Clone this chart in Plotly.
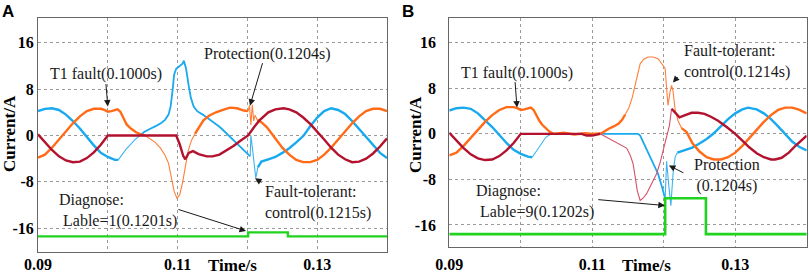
import plotly.graph_objects as go

# ---------------- Panel A data (time in s, current in A) ----------------
t_a_blue_1 = [0.090, 0.091, 0.092, 0.093, 0.094, 0.095, 0.096, 0.097, 0.098, 0.099, 0.100, 0.101, 0.1015]
v_a_blue_1 = [4.2, 4.6, 4.7, 4.4, 3.6, 2.5, 1.2, -0.3, -1.7, -3.0, -3.7, -4.2, -4.2]
t_a_blue_2 = [0.1015, 0.1020, 0.1026, 0.1033, 0.1039, 0.1046]
v_a_blue_2 = [-4.2, -3.3, -2.4, -1.5, -0.7, 0.0]
t_a_blue_3 = [0.1046, 0.1052, 0.1058, 0.1064, 0.1070, 0.1076, 0.1082, 0.1087, 0.1090, 0.1093, 0.1095,
              0.1098, 0.1103, 0.1107, 0.1109, 0.1112, 0.1116, 0.1119, 0.1123, 0.1128, 0.1136, 0.1143,
              0.1150, 0.1160, 0.1168, 0.1175, 0.1183, 0.1190, 0.1196, 0.1200, 0.1204]
v_a_blue_3 = [0.0, 0.6, 1.0, 1.3, 1.7, 2.1, 2.7, 3.6, 5.0, 8.0, 10.5,
              11.5, 12.0, 12.4, 12.9, 11.6, 8.5, 6.5, 5.0, 4.2, 3.6, 3.0,
              2.5, 1.5, 0.6, -0.2, -1.1, -1.9, -2.6, -3.1, -3.6]
t_a_blue_4 = [0.1204, 0.1205, 0.1207, 0.1210, 0.1212, 0.1215]
v_a_blue_4 = [-3.6, 0.0, -2.0, -6.0, -7.3, -5.5]
t_a_blue_5 = [0.1215, 0.1220, 0.1230, 0.1240, 0.1250, 0.1260, 0.1270, 0.1280, 0.1290, 0.1300,
              0.1310, 0.1320, 0.1330, 0.1340, 0.1350, 0.1360, 0.1370, 0.1380, 0.1390, 0.1400]
v_a_blue_5 = [-5.5, -4.5, -4.1, -3.7, -3.0, -2.2, -1.2, -0.1, 1.6, 3.1,
              4.2, 4.7, 4.4, 3.7, 2.5, 1.1, -0.3, -1.7, -3.0, -3.9]

t_a_or_1 = [0.090, 0.091, 0.092, 0.093, 0.094, 0.095, 0.096, 0.097, 0.098, 0.099, 0.0995, 0.1000,
            0.1005, 0.1010, 0.1014, 0.1018, 0.1022, 0.1027, 0.1033, 0.1040, 0.1047, 0.1053]
v_a_or_1 = [-3.8, -3.3, -2.1, -0.7, 0.7, 2.1, 3.3, 4.2, 4.6, 4.6, 4.4, 4.1,
            4.2, 4.4, 4.5, 4.1, 3.0, 1.9, 1.2, 0.6, 0.2, 0.0]
t_a_or_2 = [0.1053, 0.1060, 0.1067, 0.1075, 0.1082, 0.1087, 0.1091, 0.1095, 0.1099, 0.1103,
            0.1107, 0.1111, 0.1115, 0.1120, 0.1125]
v_a_or_2 = [0.0, -0.5, -1.1, -2.1, -3.4, -4.8, -7.0, -9.6, -10.8, -10.2,
            -8.2, -5.4, -2.7, -0.8, 0.3]
t_a_or_3 = [0.1125, 0.1130, 0.1137, 0.1145, 0.1155, 0.1165, 0.1175, 0.1185, 0.1195, 0.1201]
v_a_or_3 = [0.3, 1.2, 2.6, 3.4, 4.0, 4.4, 4.8, 4.7, 4.3, 4.2]
t_a_or_4 = [0.1201, 0.1203, 0.1205, 0.1207, 0.1209, 0.1211, 0.1214]
v_a_or_4 = [4.2, 5.2, 1.8, 5.3, 2.5, 3.5, 2.7]
t_a_or_5 = [0.1214, 0.1220, 0.1228, 0.1237, 0.1245, 0.1250, 0.1260, 0.1270, 0.1280, 0.1290, 0.1300,
            0.1310, 0.1320, 0.1330, 0.1340, 0.1350, 0.1360, 0.1370, 0.1380, 0.1390, 0.1400]
v_a_or_5 = [2.7, 2.3, 1.4, 0.0, -1.4, -2.1, -3.3, -4.2, -4.6, -4.6, -4.2,
            -3.3, -2.1, -0.7, 0.7, 2.1, 3.3, 4.2, 4.6, 4.6, 4.2]

t_a_red = [0.090, 0.091, 0.092, 0.093, 0.094, 0.095, 0.096, 0.097, 0.098, 0.099, 0.0997, 0.1000,
           0.1050, 0.1098, 0.1103, 0.1108, 0.1111, 0.1116, 0.1122, 0.1130, 0.1142, 0.1150, 0.1160,
           0.1170, 0.1180, 0.1190, 0.1201, 0.1210, 0.1218, 0.1230, 0.1240, 0.1252, 0.1260, 0.1270,
           0.1280, 0.1290, 0.1300, 0.1310, 0.1320, 0.1330, 0.1340, 0.1350, 0.1360, 0.1370, 0.1380,
           0.1390, 0.1400]
v_a_red = [0.2, -1.2, -2.5, -3.6, -4.3, -4.6, -4.5, -3.9, -2.9, -1.6, -0.6, 0.0,
           0.0, 0.0, -1.5, -3.5, -4.1, -3.0, -2.7, -3.2, -3.6, -3.6, -3.3,
           -2.6, -1.8, -0.9, 0.0, 1.5, 2.7, 4.0, 4.5, 4.7, 4.5, 4.0,
           3.1, 2.0, 0.7, -0.7, -2.1, -3.3, -4.1, -4.6, -4.5, -4.0, -3.1,
           -1.9, -0.5]

t_a_green = [0.090, 0.1201, 0.1258, 0.140]
v_a_green = [-17.4, -16.7, -17.4, -17.4]

# ---------------- Panel B data ----------------
t_b_blue_1 = [0.090, 0.091, 0.092, 0.093, 0.094, 0.095, 0.096, 0.097, 0.098, 0.099, 0.100, 0.101, 0.1016]
v_b_blue_1 = [4.1, 4.5, 4.6, 4.4, 3.6, 2.4, 1.2, -0.2, -1.6, -2.8, -3.5, -4.0, -4.1]
t_b_blue_2 = [0.1016, 0.1020, 0.1025, 0.1030, 0.1035, 0.1040, 0.1044]
v_b_blue_2 = [-4.1, -3.4, -2.4, -1.5, -0.6, -0.2, 0.0]
t_b_blue_3 = [0.1044, 0.1100, 0.1164, 0.1167, 0.1175, 0.1183, 0.1192, 0.1198, 0.1202]
v_b_blue_3 = [0.0, 0.0, 0.0, -0.3, -2.5, -4.7, -7.0, -9.5, -11.4]
t_b_blue_4 = [0.1202, 0.1204, 0.1207, 0.1210, 0.1213, 0.1216, 0.1219]
v_b_blue_4 = [-11.4, -4.8, -9.0, -12.6, -7.0, -4.0, -3.3]
t_b_blue_5 = [0.1219, 0.1228, 0.1240, 0.1250, 0.1260, 0.1270, 0.1280, 0.1290, 0.1300, 0.1310,
              0.1318, 0.1330, 0.1340, 0.1350, 0.1360, 0.1370, 0.1380, 0.1390, 0.1400]
v_b_blue_5 = [-3.3, -2.9, -2.4, -1.7, -0.9, 0.1, 1.3, 2.6, 3.6, 4.3,
              4.6, 4.3, 3.6, 2.6, 1.3, -0.1, -1.4, -2.3, -2.9]

t_b_or_1 = [0.090, 0.091, 0.092, 0.093, 0.094, 0.095, 0.096, 0.097, 0.098, 0.099, 0.0995, 0.1000,
            0.1005, 0.1010, 0.1014, 0.1018, 0.1022, 0.1026, 0.1030, 0.1035, 0.1040, 0.1046, 0.1060,
            0.1075, 0.1090, 0.1100, 0.1113, 0.1118, 0.1123, 0.1130, 0.1137, 0.1142, 0.1146]
v_b_or_1 = [-3.8, -3.3, -2.1, -0.7, 0.7, 2.1, 3.3, 4.2, 4.7, 4.7, 4.5, 4.2,
            4.3, 4.5, 4.6, 4.2, 3.2, 2.3, 1.6, 0.9, 0.4, 0.0, 0.2,
            -0.1, 0.1, 0.0, 0.1, 0.5, 0.9, 1.3, 1.8, 2.5, 3.4]
t_b_or_2 = [0.1146, 0.1151, 0.1156, 0.1160, 0.1163, 0.1167, 0.1172, 0.1178, 0.1185, 0.1192, 0.1199,
            0.1202, 0.1204, 0.1206, 0.1209, 0.1211, 0.1213, 0.1216, 0.1220, 0.1225]
v_b_or_2 = [3.4, 4.5, 6.4, 8.5, 10.6, 12.3, 13.1, 13.5, 13.5, 13.2, 12.0,
            11.5, 8.0, 5.0, 7.5, 8.5, 7.5, 4.2, 2.3, 1.0]
t_b_or_3 = [0.1225, 0.1232, 0.1240, 0.1250, 0.1260, 0.1270, 0.1280, 0.1290, 0.1300, 0.1310,
            0.1320, 0.1330, 0.1340, 0.1350, 0.1360, 0.1370, 0.1380, 0.1390, 0.1400]
v_b_or_3 = [1.0, 0.3, -1.6, -3.1, -4.1, -4.5, -4.5, -4.1, -3.3, -2.1,
            -0.7, 0.7, 2.1, 3.3, 4.2, 4.6, 4.6, 4.2, 3.6]

t_b_red_1 = [0.090, 0.091, 0.092, 0.093, 0.094, 0.095, 0.096, 0.097, 0.098, 0.099, 0.0997, 0.1000,
             0.1060, 0.1085, 0.1092, 0.1100, 0.1108, 0.1111]
v_b_red_1 = [0.2, -1.2, -2.5, -3.6, -4.3, -4.6, -4.5, -3.9, -2.9, -1.6, -0.6, 0.0,
             0.0, 0.0, -0.3, -0.3, -0.1, 0.0]
t_b_red_2 = [0.1111, 0.1120, 0.1129, 0.1140, 0.1148, 0.1153, 0.1157, 0.1160, 0.1163, 0.1167, 0.1171,
             0.1176, 0.1183, 0.1190, 0.1195, 0.1199, 0.1204, 0.1208, 0.1211]
v_b_red_2 = [0.0, -0.6, -1.2, -1.9, -2.5, -3.7, -5.2, -7.5, -10.0, -11.7, -11.3,
             -10.5, -8.8, -7.0, -5.0, -2.9, -0.6, 1.5, 4.4]
t_b_red_3 = [0.1211, 0.1216, 0.1222, 0.1230, 0.1239, 0.1248, 0.1257, 0.1266, 0.1276, 0.1288, 0.1300,
             0.1310, 0.1320, 0.1330, 0.1340, 0.1350, 0.1356, 0.1365, 0.1375, 0.1385, 0.1393, 0.1400]
v_b_red_3 = [4.4, 3.7, 2.9, 3.3, 3.7, 3.7, 3.5, 3.0, 2.3, 1.2, 0.0,
             -1.2, -2.4, -3.4, -4.1, -4.5, -4.5, -4.2, -3.3, -2.0, -1.1, -0.3]

t_b_green = [0.090, 0.1202, 0.1259, 0.140]
v_b_green = [-17.6, -11.3, -17.6, -17.6]

# tick settings
x_tickvals = [0.09, 0.10, 0.11, 0.12, 0.13]
x_ticktext = ["0.09", "", "0.11", "", "0.13"]
y_tickvals = [-16, -8, 0, 8, 16]
y_ticktext = ["-16", "-8", "0", "8", "16"]

BLUE = "#19A9EE"
BLUE_T = "#3DB4F0"
ORANGE = "#FF6B17"
ORANGE_T = "#FF7F3A"
RED = "#B3122E"
RED_T = "#D6506A"
GREEN = "#1FD31F"
THICK = 2.4
THIN = 1.1

fig = go.Figure()


def add(t, v, color, width, xa, ya, shape="linear"):
    fig.add_trace(go.Scatter(x=t, y=v, mode="lines", xaxis=xa, yaxis=ya,
                             line=dict(color=color, width=width, shape=shape),
                             showlegend=False, hoverinfo="skip"))


# Panel A
add(t_a_blue_1, v_a_blue_1, BLUE, THICK, "x", "y")
add(t_a_blue_2, v_a_blue_2, BLUE_T, THIN, "x", "y")
add(t_a_blue_3, v_a_blue_3, BLUE, 1.8, "x", "y")
add(t_a_blue_4, v_a_blue_4, BLUE_T, THIN, "x", "y")
add(t_a_blue_5, v_a_blue_5, BLUE, THICK, "x", "y")
add(t_a_or_1, v_a_or_1, ORANGE, THICK, "x", "y")
add(t_a_or_2, v_a_or_2, ORANGE_T, THIN, "x", "y")
add(t_a_or_3, v_a_or_3, ORANGE, THICK, "x", "y")
add(t_a_or_4, v_a_or_4, ORANGE_T, THIN, "x", "y")
add(t_a_or_5, v_a_or_5, ORANGE, THICK, "x", "y")
add(t_a_red, v_a_red, RED, THICK, "x", "y")
add(t_a_green, v_a_green, GREEN, THICK, "x", "y", "hv")

# Panel B
add(t_b_blue_1, v_b_blue_1, BLUE, THICK, "x2", "y2")
add(t_b_blue_2, v_b_blue_2, BLUE_T, THIN, "x2", "y2")
add(t_b_blue_3, v_b_blue_3, BLUE, 1.8, "x2", "y2")
add(t_b_blue_4, v_b_blue_4, BLUE_T, THIN, "x2", "y2")
add(t_b_blue_5, v_b_blue_5, BLUE, THICK, "x2", "y2")
add(t_b_or_1, v_b_or_1, ORANGE, THICK, "x2", "y2")
add(t_b_or_2, v_b_or_2, ORANGE_T, THIN, "x2", "y2")
add(t_b_or_3, v_b_or_3, ORANGE, THICK, "x2", "y2")
add(t_b_red_1, v_b_red_1, RED, THICK, "x2", "y2")
add(t_b_red_2, v_b_red_2, RED_T, THIN, "x2", "y2")
add(t_b_red_3, v_b_red_3, RED, THICK, "x2", "y2")
add(t_b_green, v_b_green, GREEN, 2.6, "x2", "y2", "hv")

SERIF = "Liberation Serif"
tickfont = dict(family=SERIF, size=16, color="black", weight="bold")

xcommon = dict(range=[0.09, 0.14], tickvals=x_tickvals, ticktext=x_ticktext,
               showgrid=True, gridcolor="#9a9a9a", griddash="dot", gridwidth=1,
               showline=True, mirror=True, linecolor="#666", linewidth=1,
               ticks="", zeroline=False, tickfont=tickfont, automargin=False)
ycommon = dict(tickvals=y_tickvals, ticktext=y_ticktext,
               showgrid=True, gridcolor="#9a9a9a", griddash="dot", gridwidth=1,
               showline=True, mirror=True, linecolor="#666", linewidth=1,
               ticks="", zeroline=False, tickfont=tickfont, automargin=False)

fig.update_layout(
    width=809, height=275,
    margin=dict(l=0, r=0, t=0, b=0, pad=0, autoexpand=False),
    paper_bgcolor="white", plot_bgcolor="white",
    xaxis=dict(domain=[0.04697, 0.47837], anchor="y", ticklabelstandoff=-2, **xcommon),
    yaxis=dict(domain=[0.08364, 0.93455], anchor="x", range=[-20.09, 20.26], **ycommon),
    xaxis2=dict(domain=[0.55538, 0.99716], anchor="y2", ticklabelstandoff=3, **xcommon),
    yaxis2=dict(domain=[0.10291, 0.93455], anchor="x2", range=[-19.81, 20.34],
                ticklabelstandoff=9, **ycommon),
)

ann_font = dict(family=SERIF, size=16, color="#1a1a1a")
ARC = "#1a1a1a"


def text(x, y, s, xref, yref, xanchor="center", align="center"):
    fig.add_annotation(x=x, y=y, xref=xref, yref=yref, text=s, showarrow=False,
                       font=ann_font, xanchor=xanchor, yanchor="middle", align=align)


def arrow(x, y, ax, ay, xref, yref):
    fig.add_annotation(x=x, y=y, xref=xref, yref=yref, text="", showarrow=True,
                       ax=ax, ay=ay, arrowhead=2, arrowsize=1.3, arrowwidth=1,
                       arrowcolor=ARC, standoff=0)


# Panel A annotations
text(0.09981, 10.63, "T1 fault(0.1000s)", "x", "y")
arrow(0.1000, 5.0, -2, -24, "x", "y")
text(0.12295, 14.07, "Protection(0.1204s)", "x", "y")
arrow(0.12037, 5.15, 13, -44, "x", "y")
text(0.12223, -11.49, "Fault-tolerant:<br>control(0.1215s)", "x", "y", "left", "left")
arrow(0.12109, -7.38, 8, 5, "x", "y")
text(0.09272, -12.98, "Diagnose:<br> Lable=1(0.1201s)", "x", "y", "left", "left")
arrow(0.1198, -16.47, -69, -22, "x", "y")

# Panel B annotations
text(0.09943, 10.75, "T1 fault(0.1000s)", "x2", "y2")
arrow(0.09947, 4.61, -2, -27, "x2", "y2")
text(0.12254, 12.68, "Fault-tolerant:<br>control(0.1214s)", "x2", "y2", "left", "left")
arrow(0.12129, 9.0, 6, -7, "x2", "y2")
text(0.12884, -7.32, "Protection<br>(0.1204s)", "x2", "y2")
arrow(0.12072, -5.56, 16, 8, "x2", "y2")
text(0.09345, -11.88, "Diagnose:<br> Lable=9(0.1202s)", "x2", "y2", "left", "left")
arrow(0.12015, -12.58, -68, -6, "x2", "y2")

# Axis titles and panel letters (paper coordinates)
title_font = dict(family=SERIF, size=17, color="black", weight="bold")
for xp in (232 / 809, 646.7 / 809):
    fig.add_annotation(x=xp, y=1 - 265.5 / 275, xref="paper", yref="paper", text="Time/s",
                       showarrow=False, font=title_font, xanchor="center", yanchor="middle")
for xp in (9 / 809, 415 / 809):
    fig.add_annotation(x=xp, y=1 - 134 / 275, xref="paper", yref="paper", text="Current/A",
                       showarrow=False, font=title_font, textangle=-90,
                       xanchor="center", yanchor="middle")
letter_font = dict(family="Liberation Sans", size=17, color="black", weight="bold")
fig.add_annotation(x=8 / 809, y=1 - 11 / 275, xref="paper", yref="paper", text="A",
                   showarrow=False, font=letter_font, xanchor="center", yanchor="middle")
fig.add_annotation(x=408 / 809, y=1 - 11 / 275, xref="paper", yref="paper", text="B",
                   showarrow=False, font=letter_font, xanchor="center", yanchor="middle")

fig.write_html(
    "out.html",
    config={"displayModeBar": False},
    post_script="document.body.style.margin='0';document.body.style.overflow='hidden';",
)
